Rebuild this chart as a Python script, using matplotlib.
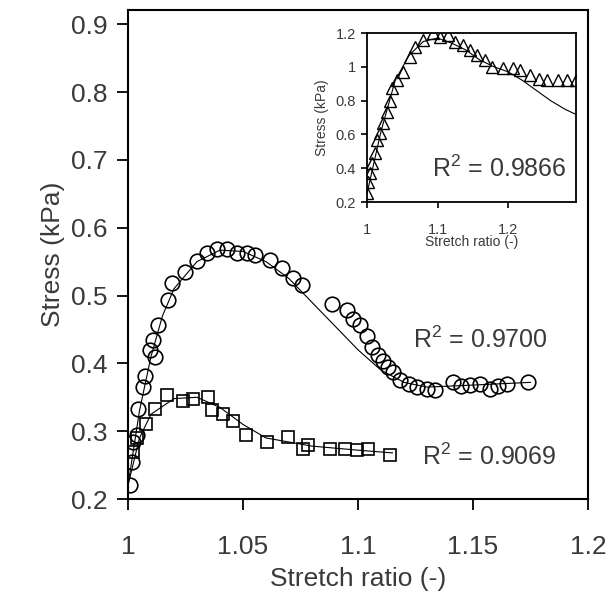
# Stress vs stretch ratio, main plot with inset
import matplotlib
matplotlib.use('Agg')
import matplotlib.pyplot as plt
from matplotlib.ticker import FormatStrFormatter

# global plt parameters
#------------------------------------------------------------------------------
plt.rcParams['font.family'] = ['Liberation Sans', 'DejaVu Sans']
plt.rcParams['mathtext.fontset'] = 'custom'
plt.rcParams['mathtext.rm'] = 'Liberation Sans'
plt.rcParams['mathtext.it'] = 'Liberation Sans'
#------------------------------------------------------------------------------

# data
#------------------------------------------------------------------------------
circ_x = [1.0009, 1.0017, 1.0022, 1.0039, 1.0043, 1.0065, 1.0074, 1.0096, 1.0109,
          1.0117, 1.013, 1.0174, 1.0191, 1.0248, 1.030, 1.0343, 1.0387, 1.043,
          1.0474, 1.0517, 1.0552, 1.0617, 1.067, 1.0717, 1.0757, 1.0887, 1.0952,
          1.0978, 1.1009, 1.1039, 1.1061, 1.1085, 1.1109, 1.1130, 1.1152, 1.1183,
          1.1220, 1.1257, 1.1300, 1.1335, 1.1413, 1.1450, 1.1487, 1.1530,
          1.1574, 1.1610, 1.1648, 1.1739]
circ_y = [0.220, 0.254, 0.284, 0.294, 0.332, 0.365, 0.382, 0.420, 0.435,
          0.410, 0.457, 0.493, 0.519, 0.534, 0.551, 0.563, 0.568, 0.568,
          0.563, 0.563, 0.560, 0.553, 0.541, 0.526, 0.515, 0.487, 0.478,
          0.465, 0.456, 0.440, 0.424, 0.412, 0.404, 0.395, 0.387, 0.376,
          0.370, 0.365, 0.362, 0.360, 0.372, 0.366, 0.368, 0.370,
          0.362, 0.366, 0.369, 0.372]
circ_fit_x = [1.0, 1.005, 1.01, 1.015, 1.02, 1.03, 1.04, 1.05, 1.06, 1.07,
              1.08, 1.09, 1.10, 1.11, 1.12, 1.13, 1.15, 1.175]
circ_fit_y = [0.22, 0.33, 0.41, 0.47, 0.51, 0.55, 0.567, 0.565, 0.55, 0.525,
              0.49, 0.455, 0.42, 0.39, 0.372, 0.365, 0.368, 0.372]

sq_x = [1.002, 1.004, 1.008, 1.0117, 1.017, 1.0239, 1.0283, 1.0348, 1.0365,
        1.0413, 1.0457, 1.0513, 1.0604, 1.0696, 1.0761, 1.0783, 1.0878,
        1.0943, 1.0996, 1.1043, 1.1139]
sq_y = [0.270, 0.290, 0.310, 0.333, 0.353, 0.345, 0.347, 0.350, 0.331,
        0.325, 0.315, 0.294, 0.284, 0.291, 0.274, 0.279, 0.274,
        0.274, 0.272, 0.274, 0.265]
sq_fit_x = [1.0, 1.005, 1.01, 1.02, 1.03, 1.04, 1.05, 1.06, 1.08, 1.10, 1.115]
sq_fit_y = [0.22, 0.29, 0.325, 0.348, 0.35, 0.335, 0.31, 0.29, 0.278, 0.272, 0.268]

tri_x = [1.0, 1.0014, 1.004, 1.007, 1.011, 1.014, 1.018, 1.023, 1.028, 1.033,
         1.035, 1.043, 1.051, 1.061, 1.068, 1.079, 1.094, 1.104, 1.115, 1.125,
         1.136, 1.146, 1.156, 1.167, 1.177, 1.193, 1.207, 1.217, 1.231, 1.243,
         1.255, 1.270, 1.284, 1.296]
tri_y = [0.253, 0.32, 0.37, 0.43, 0.49, 0.567, 0.61, 0.667, 0.733, 0.80,
         0.875, 0.92, 0.97, 1.06, 1.117, 1.158, 1.20, 1.177, 1.19, 1.147,
         1.13, 1.10, 1.07, 1.04, 1.00, 0.99, 0.99, 0.98, 0.95, 0.93,
         0.92, 0.92, 0.92, 0.92]
tri_fit_x = [1.0, 1.02, 1.04, 1.06, 1.08, 1.10, 1.12, 1.14, 1.16, 1.18, 1.20,
             1.22, 1.24, 1.26, 1.28, 1.30]
tri_fit_y = [0.25, 0.62, 0.92, 1.07, 1.15, 1.17, 1.14, 1.10, 1.04, 1.00, 0.97,
             0.92, 0.86, 0.80, 0.75, 0.71]

main_xticks = [1, 1.05, 1.1, 1.15, 1.2]
main_yticks = [0.2, 0.3, 0.4, 0.5, 0.6, 0.7, 0.8, 0.9]
inset_xticks = [1, 1.1, 1.2]
inset_yticks = [0.2, 0.4, 0.6, 0.8, 1.0, 1.2]
#------------------------------------------------------------------------------

txt = '#3a3a3a'
fig = plt.figure(figsize=(6.10, 6.09), dpi=100)

# main plot
#------------------------------------------------------------------------------
ax = fig.add_axes([0.2098, 0.1806, 0.7541, 0.803])
ax.plot(circ_fit_x, circ_fit_y, color='black', lw=0.8)
ax.plot(sq_fit_x, sq_fit_y, color='black', lw=0.8)
ax.plot(circ_x, circ_y, 'o', ms=10.5, mfc='none', mec='black', mew=1.2)
ax.plot(sq_x, sq_y, 's', ms=8, mfc='none', mec='black', mew=1.2)

ax.set_xlim(1, 1.2)
ax.set_ylim(0.2, 0.921)
ax.set_xticks(main_xticks)
ax.set_yticks(main_yticks)
ax.xaxis.set_major_formatter(FormatStrFormatter('%g'))
ax.yaxis.set_major_formatter(FormatStrFormatter('%g'))
ax.tick_params(direction='out', length=8, width=1.3, labelsize=19,
               labelcolor=txt)
ax.tick_params(axis='x', pad=18)
ax.tick_params(axis='y', pad=7)
for s in ax.spines.values():
    s.set_linewidth(1.5)
ax.set_xlabel('Stretch ratio (-)', fontsize=19, color=txt, labelpad=6)
ax.set_ylabel('Stress (kPa)', fontsize=19, color=txt, labelpad=4)

ax.text(1.1239, 0.423, r'R$^2$ = 0.9700', fontsize=18, color=txt)
ax.text(1.1278, 0.250, r'R$^2$ = 0.9069', fontsize=18, color=txt)
#------------------------------------------------------------------------------

# inset
#------------------------------------------------------------------------------
ins = fig.add_axes([0.6016, 0.6683, 0.3426, 0.2775])
ins.plot(tri_fit_x, tri_fit_y, color='black', lw=0.8)
ins.plot(tri_x, tri_y, '^', ms=8, mfc='none', mec='black', mew=1.0)
ins.set_xlim(1, 1.296)
ins.set_ylim(0.2, 1.2)
ins.set_xticks(inset_xticks)
ins.set_yticks(inset_yticks)
ins.xaxis.set_major_formatter(FormatStrFormatter('%g'))
ins.yaxis.set_major_formatter(FormatStrFormatter('%g'))
ins.tick_params(direction='out', length=4, width=1.2, labelsize=10.5,
                labelcolor=txt)
ins.tick_params(axis='x', pad=11)
ins.tick_params(axis='y', pad=4)
for s in ins.spines.values():
    s.set_linewidth(1.3)
ins.set_xlabel('Stretch ratio (-)', fontsize=10, color=txt, labelpad=-1)
ins.set_ylabel('Stress (kPa)', fontsize=10, color=txt, labelpad=5)
ins.text(1.092, 0.35, r'R$^2$ = 0.9866', fontsize=18, color=txt)
#------------------------------------------------------------------------------

fig.savefig('out.png', dpi=100)
